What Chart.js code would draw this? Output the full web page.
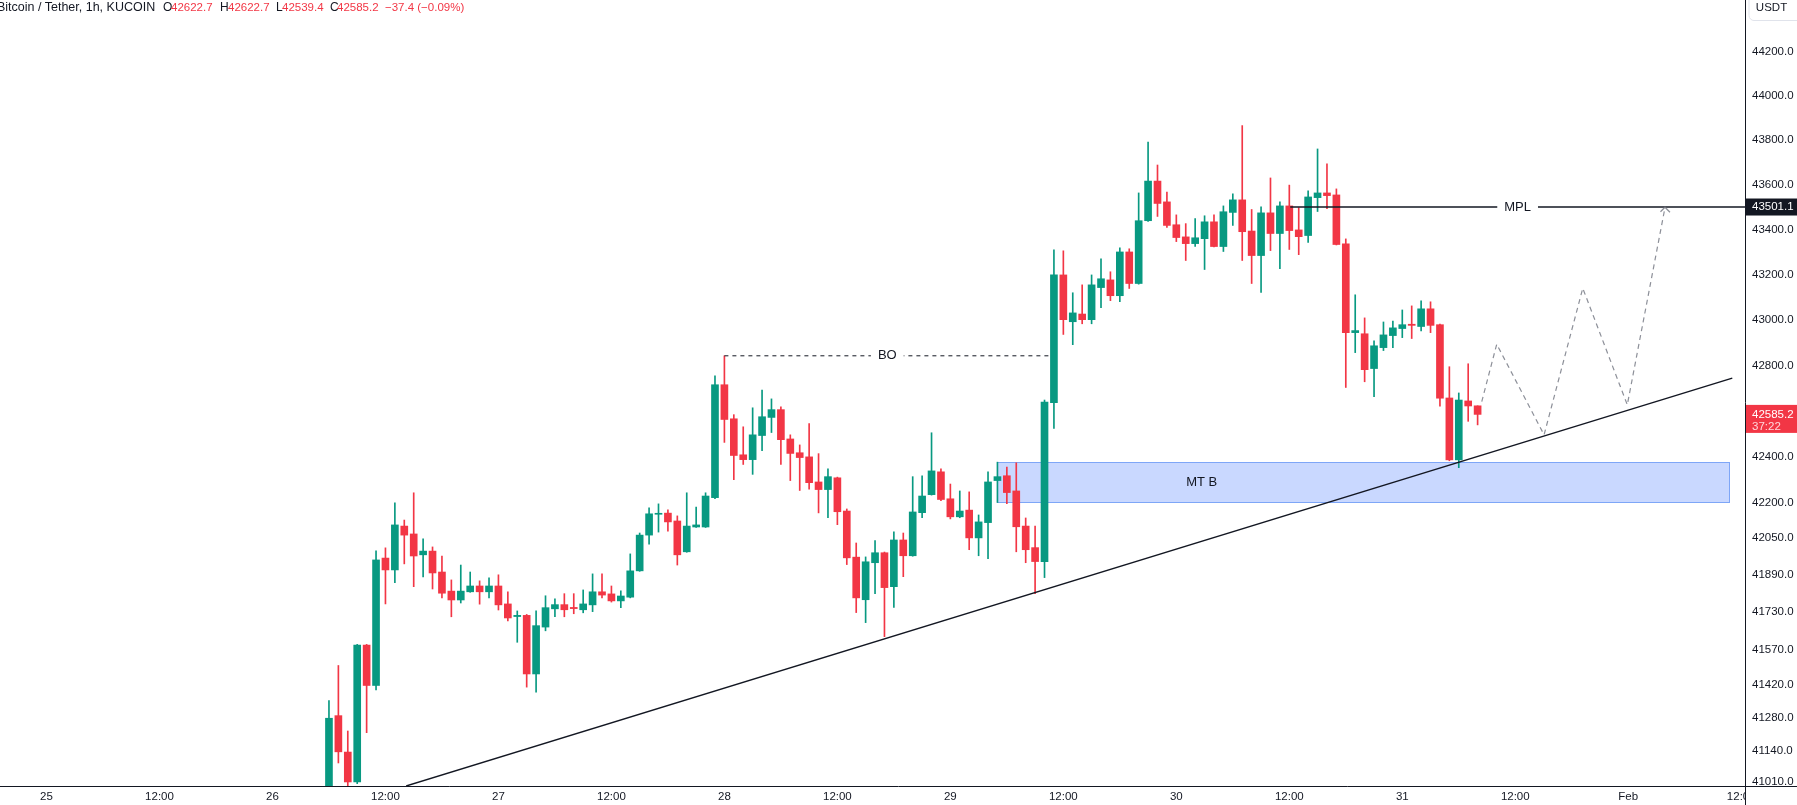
<!DOCTYPE html>
<html lang="en">
<head>
    <meta charset="UTF-8">
    <title>Bitcoin / Tether, 1h, KUCOIN</title>
    <script src="https://cdn.jsdelivr.net/npm/chart.js"></script>
    <style>
        html, body { margin: 0; padding: 0; background: #fff; overflow: hidden; }
        .wrap { position: relative; width: 1797px; height: 805px; }
        .legend {
            position: absolute; left: 0; top: 0; width: 600px; height: 16px; z-index: 2;
            font: 12px 'Liberation Sans', Arial, sans-serif; line-height: 14px;
            color: #131722; white-space: nowrap;
        }
        .legend span { position: absolute; top: 0; }
        .legend .t { font-size: 12.5px; }
        .legend .v { color: #f23645; font-size: 11.5px; }
    </style>
</head>
<body>
<div class="wrap">
    <div class="legend">
        <span class="t" style="left:-3px">Bitcoin / Tether, 1h, KUCOIN</span>
        <span style="left:163px">O</span><span class="v" style="left:171px">42622.7</span>
        <span style="left:220px">H</span><span class="v" style="left:228px">42622.7</span>
        <span style="left:276px">L</span><span class="v" style="left:282px">42539.4</span>
        <span style="left:330px">C</span><span class="v" style="left:337px">42585.2</span>
        <span class="v" style="left:385px">−37.4 (−0.09%)</span>
    </div>
    <canvas id="btcChart"></canvas>
</div>

<script>
    // hours counted from 25 Jan 00:00
    const candleHours = [30, 31, 32, 33, 34, 35, 36, 37, 38, 39, 40, 41, 42, 43, 44, 45, 46, 47, 48, 49,
        50, 51, 52, 53, 54, 55, 56, 57, 58, 59, 60, 61, 62, 63, 64, 65, 66, 67, 68, 69,
        70, 71, 72, 73, 74, 75, 76, 77, 78, 79, 80, 81, 82, 83, 84, 85, 86, 87, 88, 89,
        90, 91, 92, 93, 94, 95, 96, 97, 98, 99, 100, 101, 102, 103, 104, 105, 106, 107, 108, 109,
        110, 111, 112, 113, 114, 115, 116, 117, 118, 119, 120, 121, 122, 123, 124, 125, 126, 127, 128, 129,
        130, 131, 132, 133, 134, 135, 136, 137, 138, 139, 140, 141, 142, 143, 144, 145, 146, 147, 148, 149,
        150, 151, 152];

    const opens = [40940, 41289, 41135, 41009, 41589, 41417, 41962, 41911, 42100, 42066, 41976, 41992, 41902, 41820, 41782, 41817, 41842, 41817, 41842, 41765,
        41711, 41716, 41466, 41666, 41744, 41762, 41750, 41740, 41761, 41817, 41808, 41778, 41794, 41907, 42061, 42151, 42156, 42122, 41989, 42096,
        42096, 42223, 42715, 42566, 42409, 42388, 42493, 42572, 42606, 42478, 42418, 42400, 42291, 42258, 42309, 42165, 41966, 41783, 41942, 41985,
        41839, 42040, 41972, 42158, 42236, 42335, 42218, 42140, 42169, 42049, 42115, 42297, 42318, 42252, 42100, 42007, 41947, 42636, 43199, 42992,
        43026, 43001, 43143, 43177, 43107, 43301, 43161, 43440, 43617, 43524, 43422, 43368, 43338, 43360, 43435, 43325, 43477, 43533, 43394, 43285,
        43475, 43383, 43506, 43399, 43374, 43543, 43564, 43555, 43337, 42944, 42939, 42786, 42878, 42931, 42962, 42981, 42971, 43049, 42979, 42657,
        42387, 42644, 42622.7];

    const highs = [41353, 41502, 41224, 41592, 41592, 41993, 42006, 42200, 42126, 42244, 42045, 42010, 41971, 41868, 41932, 41902, 41864, 41877, 41890, 41817,
        41735, 41720, 41735, 41800, 41787, 41809, 41809, 41825, 41894, 41894, 41842, 41821, 41980, 42070, 42179, 42196, 42170, 42144, 42244, 42182,
        42244, 42754, 42842, 42584, 42531, 42614, 42692, 42653, 42618, 42496, 42452, 42545, 42414, 42348, 42312, 42174, 42027, 41967, 42037, 41988,
        42075, 42070, 42314, 42318, 42505, 42348, 42282, 42252, 42248, 42148, 42335, 42377, 42356, 42374, 42135, 42100, 42648, 43310, 43306, 43120,
        43155, 43199, 43270, 43213, 43319, 43315, 43564, 43792, 43689, 43568, 43466, 43427, 43449, 43462, 43466, 43506, 43560, 43866, 43490, 43502,
        43631, 43524, 43599, 43498, 43573, 43761, 43694, 43582, 43359, 43111, 43009, 42908, 42991, 42995, 43044, 43062, 43084, 43080, 42982, 42794,
        42679, 42807, 42622.7];

    const lows = [40900, 41089, 40985, 41002, 41217, 41398, 41765, 41856, 41937, 41839, 41881, 41829, 41791, 41710, 41769, 41815, 41764, 41791, 41739, 41692,
        41601, 41410, 41389, 41650, 41710, 41710, 41723, 41727, 41732, 41791, 41773, 41749, 41791, 41905, 42022, 42074, 42078, 41932, 41987, 42094,
        42094, 42219, 42463, 42301, 42367, 42324, 42427, 42506, 42367, 42297, 42254, 42260, 42157, 42136, 42106, 41934, 41728, 41685, 41809, 41625,
        41750, 41882, 41970, 42136, 42234, 42210, 42131, 42136, 41998, 41972, 41959, 42202, 42197, 41989, 41942, 41809, 41878, 42524, 42936, 42891,
        42983, 42983, 43054, 43085, 43081, 43139, 43158, 43437, 43459, 43410, 43347, 43263, 43325, 43223, 43323, 43303, 43419, 43263, 43161, 43121,
        43307, 43227, 43312, 43289, 43343, 43481, 43494, 43332, 42703, 42856, 42728, 42663, 42865, 42878, 42922, 42918, 42952, 42944, 42621, 42383,
        42353, 42555, 42539.4];

    const closes = [41278, 41136, 41009, 41589, 41417, 41954, 41911, 42105, 42061, 41971, 41992, 41898, 41811, 41782, 41820, 41842, 41817, 41842, 41761, 41705,
        41716, 41466, 41672, 41749, 41762, 41740, 41745, 41765, 41817, 41803, 41778, 41799, 41907, 42061, 42153, 42155, 42118, 41976, 42100, 42105,
        42230, 42715, 42563, 42406, 42388, 42496, 42575, 42606, 42475, 42415, 42397, 42288, 42258, 42314, 42162, 41963, 41791, 41946, 41985, 41835,
        42040, 41972, 42161, 42230, 42339, 42215, 42140, 42165, 42049, 42118, 42291, 42314, 42245, 42097, 41998, 41947, 42639, 43199, 43001, 43031,
        43001, 43155, 43182, 43107, 43301, 43161, 43440, 43617, 43517, 43419, 43365, 43338, 43364, 43435, 43325, 43480, 43533, 43391, 43285, 43475,
        43383, 43506, 43396, 43369, 43546, 43564, 43552, 43334, 42944, 42953, 42781, 42886, 42934, 42965, 42979, 42976, 43049, 42976, 42656, 42387,
        42648, 42622, 42585.2];

    const xTickHours = [0, 12, 24, 36, 48, 60, 72, 84, 96, 108, 120, 132, 144, 156, 168, 180];
    const xTickLabels = ['25', '12:00', '26', '12:00', '27', '12:00', '28', '12:00', '29', '12:00', '30', '12:00', '31', '12:00', 'Feb', '12:00'];
    const yTickValues = [44200, 44000, 43800, 43600, 43400, 43200, 43000, 42800, 42400, 42200, 42050, 41890, 41730, 41570, 41420, 41280, 41140, 41010];

    // drawings
    const trendHours = [38.2, 179.05];
    const trendPrices = [40992, 42744];
    const boHours = [72.0, 106.6];
    const boPrice = 42842;
    const mplHours = [132.1, 180.4];
    const mplPrice = 43501.1;
    const zoneHours = [101.0, 178.8];
    const zonePrices = [42203, 42377];
    const zoneLabelHour = 122.7;
    const projHours = [152.44, 154.03, 159.06, 163.17, 167.9, 171.9];
    const projPrices = [42641, 42893, 42496, 43140, 42627, 43498];
    const lastPrice = 42585.2;
    const countdown = '37:22';

    const UP = '#089981';
    const DOWN = '#f23645';
    const INK = '#131722';
    const FONT = "'Liberation Sans', Arial, sans-serif";

    const candleColors = opens.map((o, i) => closes[i] >= o ? UP : DOWN);
    const bodies = candleHours.map((h, i) => ({ x: h, y: [opens[i], closes[i]] }));
    const wicks = candleHours.map((h, i) => ({ x: h, y: [lows[i], highs[i]] }));

    function pts(hs, ps) {
        return hs.map((h, i) => ({ x: h, y: ps[i] }));
    }

    function labelWithGap(ctx, text, x, y) {
        ctx.font = '13px ' + FONT;
        const w = ctx.measureText(text).width;
        ctx.fillStyle = '#fff';
        ctx.fillRect(x - w / 2 - 7, y - 8, w + 14, 16);
        ctx.fillStyle = INK;
        ctx.textAlign = 'center';
        ctx.textBaseline = 'middle';
        ctx.fillText(text, x, y);
    }

    const drawings = {
        id: 'drawings',
        beforeDatasetsDraw(chart) {
            const { ctx, scales: { x, y } } = chart;
            ctx.save();
            const x0 = x.getPixelForValue(zoneHours[0]), x1 = x.getPixelForValue(zoneHours[1]);
            const yTop = y.getPixelForValue(zonePrices[1]), yBot = y.getPixelForValue(zonePrices[0]);
            ctx.fillStyle = 'rgba(41, 98, 255, 0.25)';
            ctx.fillRect(x0, yTop, x1 - x0, yBot - yTop);
            ctx.strokeStyle = '#7ea6f7';
            ctx.lineWidth = 1;
            ctx.strokeRect(Math.round(x0) + 0.5, Math.round(yTop) + 0.5, Math.round(x1 - x0), Math.round(yBot - yTop));
            ctx.font = '13px ' + FONT;
            ctx.fillStyle = INK;
            ctx.textAlign = 'center';
            ctx.textBaseline = 'middle';
            ctx.fillText('MT B', x.getPixelForValue(zoneLabelHour), (yTop + yBot) / 2);
            ctx.restore();
        },
        afterDatasetsDraw(chart) {
            const { ctx, scales: { x, y } } = chart;
            ctx.save();
            labelWithGap(ctx, 'BO', x.getPixelForValue((boHours[0] + boHours[1]) / 2), y.getPixelForValue(boPrice));
            labelWithGap(ctx, 'MPL', x.getPixelForValue((mplHours[0] + mplHours[1]) / 2), y.getPixelForValue(mplPrice));
            // arrow head on the projected path
            const n = projHours.length - 1;
            const ax = x.getPixelForValue(projHours[n]), ay = y.getPixelForValue(projPrices[n]);
            ctx.strokeStyle = 'rgba(120, 123, 134, 0.85)';
            ctx.lineWidth = 1.2;
            ctx.beginPath();
            ctx.moveTo(ax - 4.5, ay + 4);
            ctx.lineTo(ax, ay - 0.5);
            ctx.lineTo(ax + 5, ay + 4.5);
            ctx.stroke();
            ctx.restore();
        },
        afterDraw(chart) {
            const { ctx, chartArea, width, height, scales: { y } } = chart;
            const r = Math.round(chartArea.right) + 0.5;
            const b = Math.round(chartArea.bottom) + 0.5;
            ctx.save();
            // clip the last time label under the price scale
            ctx.fillStyle = '#fff';
            ctx.fillRect(r, b, width - r, height - b);
            ctx.strokeStyle = INK;
            ctx.lineWidth = 1;
            ctx.beginPath();
            ctx.moveTo(r, 0); ctx.lineTo(r, height);
            ctx.moveTo(0, b); ctx.lineTo(width, b);
            ctx.stroke();

            ctx.font = '11.5px ' + FONT;
            ctx.textAlign = 'left';
            ctx.textBaseline = 'middle';
            // MPL price tag
            const ym = y.getPixelForValue(mplPrice);
            ctx.fillStyle = INK;
            ctx.fillRect(r + 0.5, ym - 8.5, width - r, 17);
            ctx.fillStyle = '#fff';
            ctx.fillText(mplPrice.toFixed(1), r + 6.5, ym);
            // last price tag
            const yl = y.getPixelForValue(lastPrice);
            ctx.fillStyle = DOWN;
            ctx.fillRect(r + 0.5, yl - 9.5, width - r, 28);
            ctx.fillStyle = '#fff';
            ctx.fillText(lastPrice.toFixed(1), r + 6.5, yl);
            ctx.fillStyle = '#ffd6da';
            ctx.fillText(countdown, r + 6.5, yl + 12.5);
            // currency box
            ctx.strokeStyle = '#e0e3eb';
            ctx.beginPath();
            ctx.roundRect(r + 3.5, -5.5, 56, 26, 5);
            ctx.stroke();
            ctx.fillStyle = INK;
            ctx.textAlign = 'center';
            ctx.fillText('USDT', r + 26, 8);
            ctx.restore();
        }
    };

    Chart.defaults.font.family = FONT;
    Chart.defaults.font.size = 11.5;
    Chart.defaults.color = INK;

    const canvas = document.getElementById('btcChart');
    canvas.width = 1797;
    canvas.height = 805;

    new Chart(canvas.getContext('2d'), {
        type: 'bar',
        data: {
            datasets: [
                {
                    label: 'Body',
                    data: bodies,
                    backgroundColor: candleColors,
                    borderWidth: 0,
                    barThickness: 7,
                    minBarLength: 1,
                    grouped: false,
                    order: 2
                },
                {
                    label: 'Wick',
                    data: wicks,
                    backgroundColor: candleColors,
                    borderWidth: 0,
                    barThickness: 1,
                    grouped: false,
                    order: 3
                },
                {
                    type: 'line',
                    label: 'Trend',
                    data: pts(trendHours, trendPrices),
                    borderColor: INK,
                    borderWidth: 1.4,
                    pointRadius: 0,
                    order: 1
                },
                {
                    type: 'line',
                    label: 'BO',
                    data: pts(boHours, [boPrice, boPrice]),
                    borderColor: INK,
                    borderWidth: 1,
                    borderDash: [4, 4],
                    pointRadius: 0,
                    order: 1
                },
                {
                    type: 'line',
                    label: 'MPL',
                    data: pts(mplHours, [mplPrice, mplPrice]),
                    borderColor: INK,
                    borderWidth: 1.4,
                    pointRadius: 0,
                    order: 1
                },
                {
                    type: 'line',
                    label: 'Projection',
                    data: pts(projHours, projPrices),
                    borderColor: 'rgba(120, 123, 134, 0.85)',
                    borderWidth: 1.2,
                    borderDash: [5, 4],
                    pointRadius: 0,
                    order: 1
                }
            ]
        },
        options: {
            responsive: false,
            animation: false,
            layout: { padding: 0 },
            plugins: {
                legend: { display: false },
                tooltip: { enabled: false }
            },
            scales: {
                x: {
                    type: 'linear',
                    min: -4.94,
                    max: 180.4,
                    offset: false,
                    grid: { display: false, drawTicks: false },
                    border: { display: false },
                    ticks: {
                        autoSkip: false,
                        maxRotation: 0,
                        padding: 4,
                        callback: (v, i) => xTickLabels[i]
                    },
                    afterBuildTicks: (scale) => {
                        scale.ticks = xTickHours.map(v => ({ value: v }));
                    },
                    afterFit: (scale) => {
                        scale.height = 19;
                        scale.paddingLeft = 0;
                        scale.paddingRight = 0;
                    }
                },
                y: {
                    type: 'logarithmic',
                    position: 'right',
                    min: 40992,
                    max: 44435,
                    grid: { display: false, drawTicks: false },
                    border: { display: false },
                    ticks: {
                        autoSkip: false,
                        padding: 7,
                        callback: (v) => Number(v).toFixed(1)
                    },
                    afterBuildTicks: (scale) => {
                        scale.ticks = yTickValues.map(v => ({ value: v }));
                    },
                    afterFit: (scale) => {
                        scale.width = 52;
                        scale.paddingTop = 0;
                        scale.paddingBottom = 0;
                    }
                }
            }
        },
        plugins: [drawings]
    });
</script>
</body>
</html>
